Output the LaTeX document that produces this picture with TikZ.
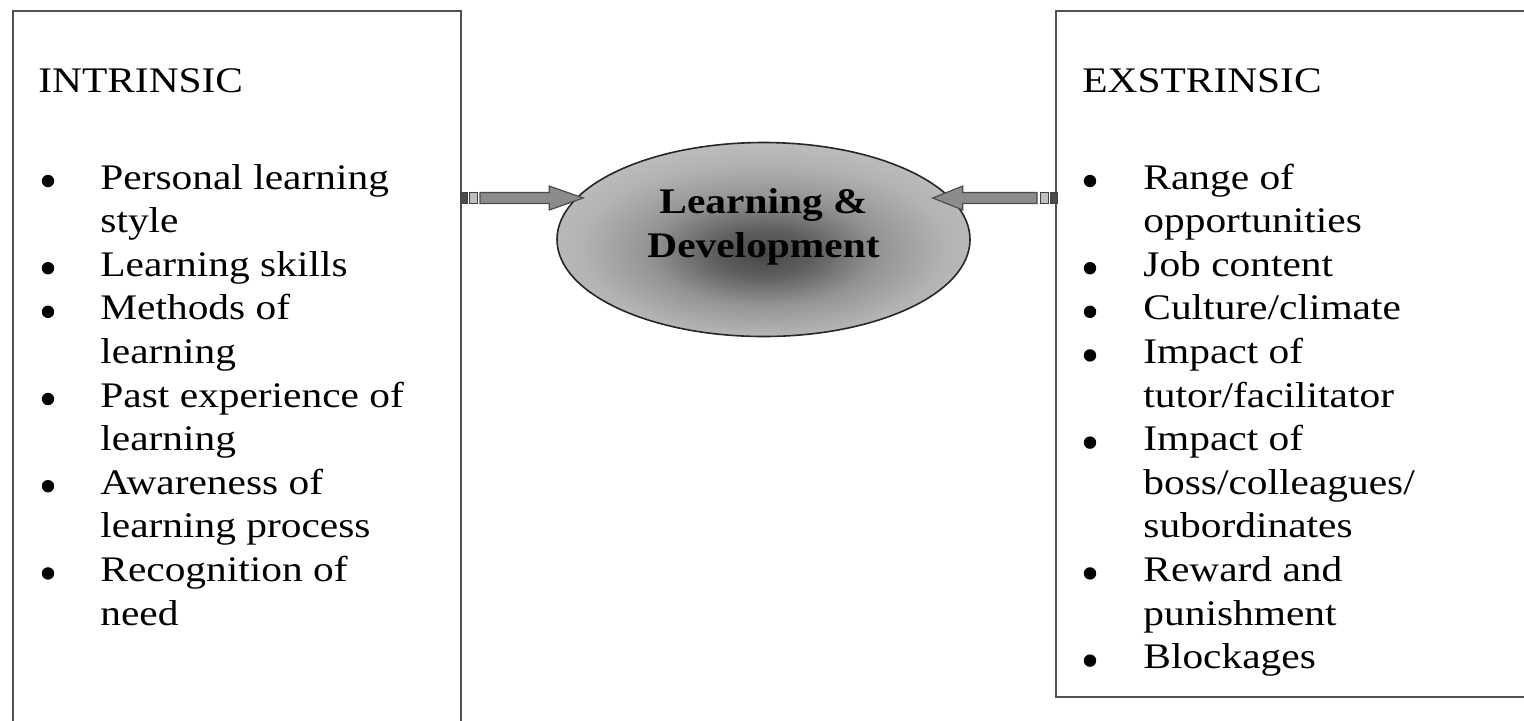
\documentclass[tikz,border=0pt]{standalone}
\usepackage{fontspec}
\setmainfont{Liberation Serif}[FakeStretch=1.15]
\usetikzlibrary{calc,shapes.geometric}
\pgfdeclareradialshading{ldshade}{\pgfpoint{0bp}{-4bp}}{%
  rgb(0bp)=(0.28,0.28,0.28);rgb(6bp)=(0.37,0.37,0.37);rgb(14bp)=(0.58,0.58,0.58);%
  rgb(22bp)=(0.70,0.70,0.70);rgb(30bp)=(0.76,0.76,0.76);rgb(50bp)=(0.79,0.79,0.79)}
\begin{document}
\begin{tikzpicture}[x=0.5pt,y=-0.5pt,
  boxline/.style={draw=black!68, line width=1pt, inner sep=0pt},
  txt/.style={inner sep=0pt, anchor=base west, font=\fontsize{18}{21.8}\selectfont},
  bul/.style={circle, fill=black, inner sep=0pt, minimum size=6.2pt},
  btxt/.style={inner sep=0pt, anchor=base, font=\fontsize{18}{21.8}\selectfont\bfseries},
  arrbody/.style={draw=black!70, fill=black!45, line width=0.6pt},
  tailA/.style={draw=black!75, fill=black!70, line width=0.5pt},
  tailB/.style={draw=black!75, fill=black!25, line width=0.5pt}]
\clip (0,0) rectangle (1524,720);
\useasboundingbox (0,0) rectangle (1524,720);

% boxes
\node (L) [boxline, anchor=north west, minimum width=224pt, minimum height=370pt] at (12,10) {};
\node (R) [boxline, anchor=north west, minimum width=245pt, minimum height=343pt] at (1055,10) {};

% titles
\node (Lt) [txt] at (38,92) {INTRINSIC};
\node (Rt) [txt] at (1082,92) {EXSTRINSIC};

% left list
\foreach \t [count=\i] in {Personal learning,style,Learning skills,Methods of,learning,Past experience of,learning,Awareness of,learning process,Recognition of,need}
  \node (l\i) [txt] at (100,{189+(\i-1)*43.6}) {\t};
\foreach \i in {1,3,4,6,8,10}
  \node (lb\i) [bul] at (48,{181+(\i-1)*43.6}) {};

% right list
\foreach \t [count=\i] in {Range of,opportunities,Job content,Culture/climate,Impact of,tutor/facilitator,Impact of,boss/colleagues/,subordinates,Reward and,punishment,Blockages}
  \node (r\i) [txt] at (1143,{189+(\i-1)*43.6}) {\t};
\foreach \i in {1,3,4,5,7,10,12}
  \node (rb\i) [bul] at (1090,{181+(\i-1)*43.6}) {};

% central ellipse
\node (E) [ellipse, draw=black!85, line width=0.8pt, shading=ldshade, inner sep=0pt,
  minimum width=206.5pt, minimum height=97pt] at (763.5,239.5) {};
\node (E1) [btxt] at (763.5,213) {Learning \&};
\node (E2) [btxt] at (763.5,257) {Development};

% left arrow
\coordinate (la) at (L.north east |- 0,198);
\coordinate (lt) at (E.west |- 0,198);
\coordinate (lt) at ($(lt)+(27,0)$);
\draw[tailA] ($(la)+(-2,-5.5)$) rectangle ($(la)+(5,5.5)$);
\draw[tailB] ($(la)+(7,-5.5)$) rectangle ($(la)+(15,5.5)$);
\draw[arrbody] ($(la)+(18,-5.5)$) -- ($(lt)+(-34,-5.5)$) -- ($(lt)+(-34,-12)$) -- (lt)
  -- ($(lt)+(-34,12)$) -- ($(lt)+(-34,5.5)$) -- ($(la)+(18,5.5)$) -- cycle;

% right arrow
\coordinate (ra) at (R.north west |- 0,198);
\coordinate (rt) at (E.east |- 0,198);
\coordinate (rt) at ($(rt)+(-38,0)$);
\draw[tailA] ($(ra)+(2,-5.5)$) rectangle ($(ra)+(-5,5.5)$);
\draw[tailB] ($(ra)+(-7,-5.5)$) rectangle ($(ra)+(-15,5.5)$);
\draw[arrbody] ($(ra)+(-18,-5.5)$) -- ($(rt)+(30,-5.5)$) -- ($(rt)+(30,-12)$) -- (rt)
  -- ($(rt)+(30,12)$) -- ($(rt)+(30,5.5)$) -- ($(ra)+(-18,5.5)$) -- cycle;
\end{tikzpicture}
\end{document}
